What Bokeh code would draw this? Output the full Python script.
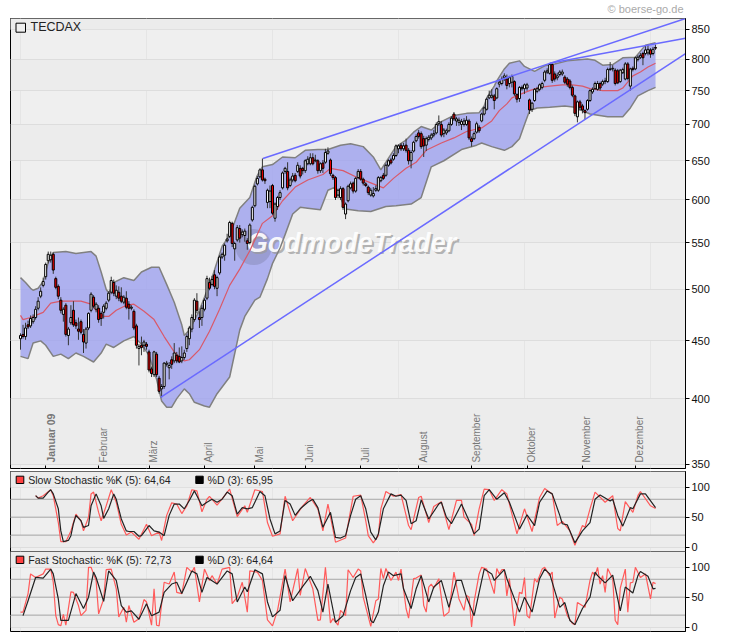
from math import pi
from bokeh.plotting import figure
from bokeh.layouts import column
from bokeh.core.properties import value
from bokeh.models import (Range1d, FixedTicker, BasicTickFormatter, Label, BoxAnnotation,
                          Span, LinearAxis, ColumnDataSource, Title)
from bokeh.embed import file_html
from bokeh.resources import INLINE

FONT = "Liberation Sans"

opens = [452,456,454,465,464,468,472,481,493,504,
         513,530,531,537,511,503,489,475,484,455,
         467,479,467,461,468,456,448,462,479,492,
         480,481,476,477,481,489,497,507,493,497,
         493,487,491,485,481,478,464,443,446,446,
         447,440,425,420,438,417,408,410,429,426,
         433,432,437,436,432,435,443,452,461,470,
         488,472,472,480,491,507,505,515,501,517,
         534,536,552,557,572,543,553,566,559,558,
         552,550,576,593,620,629,638,626,597,598,
         618,578,592,603,615,636,636,618,625,631,
         636,640,640,637,646,646,654,650,650,637,
         647,648,660,651,631,628,606,603,614,583,
         599,615,621,611,628,636,626,620,616,606,
         605,612,612,624,631,631,644,651,652,657,
         666,671,666,671,664,650,663,677,688,687,
         680,671,679,681,685,688,701,700,687,688,
         691,700,715,705,703,700,700,700,705,680,
         680,689,696,705,715,722,739,740,742,739,
         760,761,770,768,761,763,764,744,738,753,
         753,754,736,722,735,749,752,755,766,779,
         777,791,776,770,775,776,771,768,765,755,
         742,711,733,727,720,722,735,748,753,752,
         761,760,764,764,783,784,782,781,764,778,
         768,792,757,785,784,799,803,809,809,810,
         815,809,819]
closes = [455,454,462,463,471,472,480,488,498,508,
          526,537,536,520,502,493,479,480,456,461,
          472,465,464,459,458,449,461,476,495,483,
          485,470,471,483,486,496,509,496,499,491,
          488,492,482,481,482,462,446,445,444,449,
          445,424,421,440,420,406,410,430,430,428,
          429,439,432,431,435,439,454,462,472,489,
          479,470,481,489,511,501,510,503,512,534,
          537,547,554,573,549,549,567,555,562,563,
          549,570,591,617,627,638,625,624,612,611,
          584,595,603,609,634,640,615,625,630,624,
          644,630,637,650,652,654,646,651,637,646,
          640,661,663,633,628,603,612,614,591,595,
          617,620,611,627,636,626,621,618,609,612,
          608,614,628,628,627,644,650,647,657,670,
          670,666,670,664,650,661,675,683,683,669,
          670,680,682,685,687,700,704,685,692,691,
          700,709,708,708,706,704,705,706,681,676,
          687,701,691,715,724,737,743,743,735,753,
          763,768,773,758,770,772,745,737,755,755,
          759,759,721,731,752,753,759,761,779,781,
          791,766,768,773,779,779,763,760,755,743,
          716,733,725,721,717,735,750,752,761,761,
          754,764,765,783,784,785,761,762,782,783,
          792,769,784,783,802,803,806,802,815,816,
          808,816,818]
highs = [457,465,467,469,474,475,483,492,502,512,
         528,540,540,539,513,505,492,482,486,463,
         484,488,470,472,470,461,463,477,497,494,
         487,484,478,485,488,498,513,510,504,503,
         502,494,498,488,484,480,466,447,454,451,
         449,442,427,441,440,419,412,431,432,431,
         436,448,440,444,445,442,456,464,475,491,
         496,478,484,491,514,512,514,520,514,536,
         539,549,560,575,574,551,570,570,565,566,
         555,572,593,619,630,640,653,628,614,618,
         620,597,605,612,636,642,648,628,634,634,
         648,644,642,652,656,660,660,658,652,648,
         651,666,668,653,633,630,614,617,616,597,
         619,623,623,629,639,639,628,622,618,615,
         616,618,630,630,634,646,652,654,660,672,
         672,674,674,680,667,664,677,686,692,690,
         684,683,685,688,692,703,713,705,695,694,
         703,712,718,711,710,708,709,712,708,683,
         690,704,699,717,726,739,750,752,745,755,
         768,772,777,775,773,775,766,746,757,758,
         761,762,738,733,754,756,761,764,782,785,
         793,793,780,778,782,783,774,771,768,758,
         744,735,736,730,722,737,752,755,764,765,
         764,767,770,786,795,790,785,784,784,786,
         795,795,786,788,804,806,810,812,822,824,
         818,820,824]
lows = [442,452,451,461,462,466,470,479,491,502,
        510,527,528,516,500,490,476,468,454,446,
        465,463,461,451,456,439,443,460,477,481,
        477,467,464,471,479,487,495,493,490,488,
        486,485,480,470,479,460,443,428,437,440,
        442,422,418,418,418,404,401,408,427,416,
        425,430,430,430,430,433,440,446,458,468,
        476,462,464,478,489,499,503,500,493,515,
        532,530,550,555,545,530,551,550,556,551,
        542,548,574,591,618,627,623,620,590,590,
        582,574,588,600,613,633,612,616,622,622,
        634,627,632,634,644,644,644,648,633,634,
        634,646,658,630,625,600,602,600,588,577,
        597,613,608,609,626,624,618,616,606,604,
        603,610,610,622,625,629,642,645,650,655,
        660,663,663,661,645,640,661,675,680,666,
        655,663,676,678,682,686,698,682,682,685,
        689,698,705,698,698,692,697,698,678,669,
        678,687,688,703,713,720,737,738,722,737,
        755,758,765,752,755,755,742,732,733,750,
        745,750,715,718,733,746,749,752,763,776,
        775,762,764,766,772,773,760,756,752,740,
        712,703,720,716,707,720,733,745,751,750,
        750,757,760,762,781,780,758,760,762,776,
        766,766,750,780,782,796,800,790,806,806,
        802,806,815]

upper_days = [0,2,4,5,7,9,11,13,18,22,28,30,32,34,35,37,41,45,48,52,55,58,61,64,65,67,71,76,80,83,
              87,91,93,94,96,100,104,109,113,118,122,127,131,136,140,143,145,149,153,156,159,163,167,172,177,
              182,184,185,188,189,192,194,198,200,204,208,212,217,225,228,231,235,239,244,248,252]
upper_band = [512,507,501,499,501,508,528,539,540,538,540,535,518,500,496,507,512,509,518,523,523,505,487,465,455,460,479,512,546,558,
              590,603,622,631,642,645,655,654,664,665,665,671,673,669,655,638,648,669,678,689,697,692,704,713,716,
              717,727,739,757,765,784,793,797,788,780,789,792,797,800,798,790,791,802,803,823,827]
lower_days = [0,3,5,8,10,13,16,19,22,25,29,32,34,37,41,45,48,51,54,56,58,60,62,65,67,69,73,75,78,83,
              87,89,93,95,98,100,103,105,108,111,114,119,122,125,129,134,139,145,149,155,159,163,168,175,181,
              183,187,192,195,198,200,202,205,210,216,220,226,233,239,242,245,249,252]
lower_band = [436,434,448,450,446,436,438,434,439,436,431,439,447,444,450,454,447,437,416,398,393,393,400,408,404,397,394,393,404,418,
              460,473,489,492,511,527,544,559,583,591,590,588,612,616,589,587,586,592,593,595,603,642,650,665,671,
              674,669,664,669,680,700,720,724,725,727,725,715,711,711,724,742,750,755]
ma_days = [0,1,4,7,9,12,16,20,24,28,30,33,35,38,42,45,49,53,57,61,65,67,71,75,79,83,
           87,91,96,100,104,109,114,120,123,128,133,140,144,148,153,157,161,167,172,177,
           183,187,190,193,195,198,202,206,210,215,219,223,226,231,237,239,243,246,249,252]
ma_line = [474,470,472,475,477,486,488,488,488,485,479,473,473,479,484,485,478,470,454,440,432,433,442,459,480,504,
           521,541,572,581,599,616,625,632,640,637,629,620,615,627,640,648,664,674,681,690,
           695,705,720,730,739,744,750,755,757,759,759,757,753,750,750,754,773,779,787,793]

trend_low_days = [55.6, 263.9]
trend_low = [401, 809]
trend_high_days = [96.2, 263.9]
trend_high = [653, 869]
trend_top_days = [210, 263.9]
trend_top = [793, 834.5]

month_days = [10,31,51,73,93,113,135,158,179,201,223,244]
month_labels = ["Januar 09","Februar","März","April","Mai","Juni","Juli","August","September","Oktober","November","Dezember"]
price_ticks = [350,400,450,500,550,600,650,700,750,800,850]

slow_k_days = [6,7,9,12,13,15,16,18,20,22,24,25,27,28,29,31,32,34,36,38,40,42,44,47,50,52,55,56,58,60,62,64,66,68,70,72,74,75,78,81,83,86,89,90,93,96,98,100,103,105,108,112,115,118,120,122,125,129,132,
               135,137,138,140,142,143,145,148,151,154,155,158,159,162,164,167,170,173,175,176,179,180,182,184,186,188,191,193,197,200,203,206,208,211,213,215,218,220,223,224,226,228,232,235,237,238,240,243,245,246,250,252]
slow_k = [86,82,86,96,86,41,9,9,27,55,44,27,50,89,92,58,44,69,96,75,38,20,25,13,38,19,25,11,53,74,72,56,69,96,94,59,80,85,70,86,97,51,69,58,96,93,41,18,22,85,44,69,83,64,27,72,8,15,85,
          87,44,19,7,19,64,93,85,88,36,29,83,85,41,68,76,29,78,78,50,38,19,64,97,96,78,96,89,22,64,26,83,98,89,36,43,27,3,36,33,64,92,75,86,31,27,76,58,86,93,69,64.64]
slow_d_days = [6,7,9,11,12,13,15,16,17,19,20,21,22,24,25,27,28,30,32,33,35,37,38,40,42,43,45,47,48,51,53,55,57,59,61,63,65,67,69,70,72,74,76,78,80,82,84,86,88,90,92,95,97,99,101,103,105,107,109,111,114,116,118,120,122,123,125,127,129,131,133,
               135,137,139,141,142,144,147,149,151,153,155,157,159,162,166,167,169,171,175,178,180,182,184,186,189,192,194,198,201,204,206,209,211,214,215,217,220,223,226,228,230,234,235,237,239,242,243,246,248,252]
slow_d = [86,82,82,92,96,89,64,27,9,11,19,39,53,44,33,36,69,89,69,48,64,89,80,47,27,26,26,18,19,36,27,25,19,53,72,72,64,78,94,86,69,75,80,75,80,92,86,55,66,64,66,93,86,47,22,27,78,72,53,64,75,80,66,33,50,58,16,15,19,53,80,
          86,64,25,12,22,64,89,85,87,78,39,44,79,47,72,75,50,39,72,44,22,30,86,96,80,91,75,30,54,36,75,94,89,53,39,37,7,27,41,80,87,77,80,53,35,66,64,89,89,65.95]
fast_k_days = [0,1,3,4,6,9,10,12,13,14,15,16,17,18,20,21,23,24,26,27,28,30,31,33,34,36,38,39,41,42,43,45,47,49,50,52,53,54,55,57,59,61,62,64,66,68,69,71,73,75,76,78,80,83,84,86,88,90,91,94,96,98,100,102,105,107,110,111,113,116,118,119,121,123,124,126,127,129,130,132,134,
               135,136,139,141,142,143,144,145,147,149,150,151,153,154,156,157,159,160,161,162,163,164,166,168,170,172,174,176,177,178,179,180,182,183,185,188,189,190,191,192,193,194,196,198,199,200,201,202,204,205,207,208,210,211,212,214,215,217,219,220,221,224,226,227,228,229,230,231,232,233,235,236,237,238,240,241,242,243,244,246,248,250,251,252]
fast_k = [25,25,56,89,83,89,97,97,75,19,4,2,21,3,59,58,36,19,28,100,100,78,22,47,96,97,64,17,33,8,36,8,14,46,42,3,64,3,2,75,72,92,58,56,100,92,100,42,97,78,86,72,97,100,39,50,75,25,94,92,78,12,2,28,97,42,98,53,98,64,11,12,100,7,14,3,28,19,96,83,97,
          94,50,1,44,47,98,81,98,78,92,78,97,31,15,81,82,87,36,25,67,72,65,81,18,25,92,47,28,53,50,0,42,89,100,97,56,98,89,96,96,52,81,2,58,56,83,19,15,81,75,97,100,86,92,15,50,47,19,6,4,41,33,78,92,86,100,72,86,58,98,81,11,4,65,97,25,74,75,100,83,89,47,75,72.73]
fast_d_days = [1,3,6,9,12,13,15,16,19,22,25,27,29,30,33,35,38,40,42,44,47,50,52,55,57,60,62,64,68,70,72,74,78,82,84,86,89,90,93,96,98,100,103,105,108,112,115,118,120,122,125,128,131,133,
               135,137,139,140,142,144,146,148,151,152,155,157,159,162,164,167,170,173,175,177,180,182,184,187,188,192,193,198,200,203,206,208,210,214,216,218,220,223,226,228,229,232,235,238,240,243,245,246,249,251,252]
fast_d = [19,44,83,82,97,89,47,11,11,56,31,50,92,83,43,94,78,36,25,27,13,39,19,25,58,72,75,56,94,89,58,83,72,94,89,42,67,59,96,89,42,17,28,86,44,68,85,61,25,72,8,19,61,83,
          89,53,11,7,25,69,92,86,89,64,31,64,86,42,67,78,33,78,78,50,19,58,97,89,78,96,81,25,50,25,81,97,89,33,41,11,4,31,50,92,86,74,87,27,67,57,86,93,85,64,64.64]

# candles
up = [c >= o for o, c in zip(opens, closes)]
candles = ColumnDataSource(dict(
    day=list(range(len(opens))),
    body_top=[max(o, c) for o, c in zip(opens, closes)],
    body_bottom=[min(o, c) for o, c in zip(opens, closes)],
    high=highs, low=lows,
    color=["white" if u else "#ee0000" for u in up],
))

DAY_RANGE = (-3.97, 263.89)


def text_label(p, x, y, text, size="10.6px", color="#222222", align="left"):
    p.add_layout(Label(x=x, y=y, x_units="screen", y_units="screen", text=text,
                       text_font=FONT, text_font_size=size, text_color=color,
                       text_align=align, text_baseline="middle"))


def marker(p, left, right, bottom, top, color):
    p.add_layout(BoxAnnotation(left=left, right=right, bottom=bottom, top=top,
                               left_units="screen", right_units="screen",
                               bottom_units="screen", top_units="screen",
                               fill_color=color, fill_alpha=1,
                               line_color="black", line_width=1, line_alpha=1))


def style_axis(p, ticks):
    ax = p.yaxis[0]
    ax.ticker = FixedTicker(ticks=ticks)
    ax.formatter = BasicTickFormatter()
    ax.major_tick_in = 0
    ax.major_tick_out = 4
    ax.minor_tick_line_color = None
    ax.axis_line_color = "black"
    ax.major_tick_line_color = "black"
    ax.major_label_standoff = 2
    ax.major_label_text_font = FONT
    ax.major_label_text_font_size = "11px"
    ax.major_label_text_color = "#111111"
    p.outline_line_color = "black"
    p.outline_line_alpha = 1
    p.background_fill_color = "#efefef"
    p.border_fill_color = "white"


# main price panel
p = figure(width=722, height=469, output_backend="svg", toolbar_location=None,
           x_range=Range1d(*DAY_RANGE), y_range=Range1d(346.8, 869),
           y_axis_type="log", y_axis_location="right", x_axis_location=None,
           min_border_left=10, min_border_right=37, min_border_top=18, min_border_bottom=1)
style_axis(p, price_ticks)
p.ygrid.grid_line_color = "#dddddd"
p.ygrid.band_fill_color = "#ececec"
p.ygrid.band_fill_alpha = 1
p.add_layout(BoxAnnotation(bottom=850, fill_color="#ececec", fill_alpha=1, line_alpha=0, level="underlay"))
p.add_layout(Title(text="© boerse-go.de", align="right", vertical_align="top", offset=2, standoff=4, text_font=FONT,
                   text_font_size="11px", text_font_style="normal", text_color="#aaaaaa"), "above")

p.patch(upper_days + lower_days[::-1], upper_band + lower_band[::-1], fill_color="#9da1ef", fill_alpha=0.8, line_color=None)

# watermark sits between the band and the price lines
p.scatter([92.5], [545], size=36, fill_color="#8286b0", fill_alpha=0.45, line_color=None)
p.text([89.8], [549], text=["GodmodeTrader"], text_font=value(FONT), text_font_style="bold italic",
       text_font_size="27px", text_color="#999999", text_alpha=0.7, text_baseline="middle", x_offset=2, y_offset=2)
p.text([89.8], [549], text=["GodmodeTrader"], text_font=value(FONT), text_font_style="bold italic",
       text_font_size="27px", text_color="white", text_alpha=0.92, text_baseline="middle")

p.line(upper_days, upper_band, line_color="#808080", line_width=1.5)
p.line(lower_days, lower_band, line_color="#808080", line_width=1.5)
p.line(ma_days, ma_line, line_color="#d9596a", line_width=1.2)

p.segment("day", "high", "day", "low", source=candles, line_color="#333333", line_width=1)
p.vbar("day", width=0.8, top="body_top", bottom="body_bottom", source=candles,
       fill_color="color", line_color="black", line_width=1)

for xs, ys in [(trend_low_days, trend_low), (trend_high_days, trend_high), (trend_top_days, trend_top)]:
    p.line(xs, ys, line_color="#6a6aff", line_width=1.5)

month_axis = LinearAxis(fixed_location=346.8, ticker=FixedTicker(ticks=month_days),
                        major_label_overrides={d: "" for d in month_days},
                        major_tick_in=3, major_tick_out=0,
                        minor_tick_line_color=None, axis_line_color=None, major_tick_line_color="black")
p.add_layout(month_axis, "below")
p.text(month_days[1:], [351] * (len(month_days) - 1), text=month_labels[1:], angle=pi / 2,
       text_font=value(FONT), text_font_size="10px", text_color="#777777",
       text_baseline="top", text_align="left", x_offset=-1)
p.text(month_days[:1], [351], text=month_labels[:1], angle=pi / 2,
       text_font=value(FONT), text_font_size="10.5px", text_color="#777777",
       text_baseline="top", text_align="left", x_offset=-1, text_font_style="bold")

marker(p, 5.5, 15, 436.3, 445.3, "#efefef")
text_label(p, 20, 441.3, "TECDAX", size="12.5px")


def stoch_panel(height, top, bottom, k_days, k_vals, d_days, d_vals, k_text, d_text):
    s = figure(width=722, height=height, output_backend="svg", toolbar_location=None,
               x_range=Range1d(*DAY_RANGE), y_range=Range1d(-7.5, 126.5),
               y_axis_location="right", x_axis_location=None,
               min_border_left=10, min_border_right=37, min_border_top=top, min_border_bottom=bottom)
    style_axis(s, [0, 50, 100])
    s.ygrid.ticker = FixedTicker(ticks=[0, 20, 50, 80, 100])
    s.ygrid.grid_line_color = "#dddddd"
    s.ygrid.band_fill_color = "#ececec"
    s.ygrid.band_fill_alpha = 1
    s.add_layout(BoxAnnotation(bottom=100, fill_color="#ececec", fill_alpha=1, line_alpha=0, level="underlay"))
    for level in [20, 50, 80]:
        s.add_layout(Span(location=level, dimension="width", line_color="#aaaaaa", line_width=1, level="underlay"))
    s.line(k_days, k_vals, line_color="#ff5a5a", line_width=1.2)
    s.line(d_days, d_vals, line_color="#222222", line_width=1.2)
    marker(s, 5.7, 13.3, 68, 75.3, "#ff4040")
    text_label(s, 17.7, 71.7, k_text)
    marker(s, 185.3, 192.7, 68, 75.3, "black")
    text_label(s, 197, 71.7, d_text)
    return s


# slow panel keeps 3px spare below its frame so its "0" label is not cut, fast panel slides back over it
slow = stoch_panel(85, 2, 3, slow_k_days, slow_k, slow_d_days, slow_d,
                   "Slow Stochastic %K (5): 64,64", "%D (3): 65,95")
fast = stoch_panel(81, 0, 1, fast_k_days, fast_k, fast_d_days, fast_d,
                   "Fast Stochastic: %K (5): 72,73", "%D (3): 64,64")
fast.margin = (-3, 0, 0, 0)

layout = column(p, slow, fast, spacing=0)
open("out.html", "w").write(file_html(layout, INLINE))
